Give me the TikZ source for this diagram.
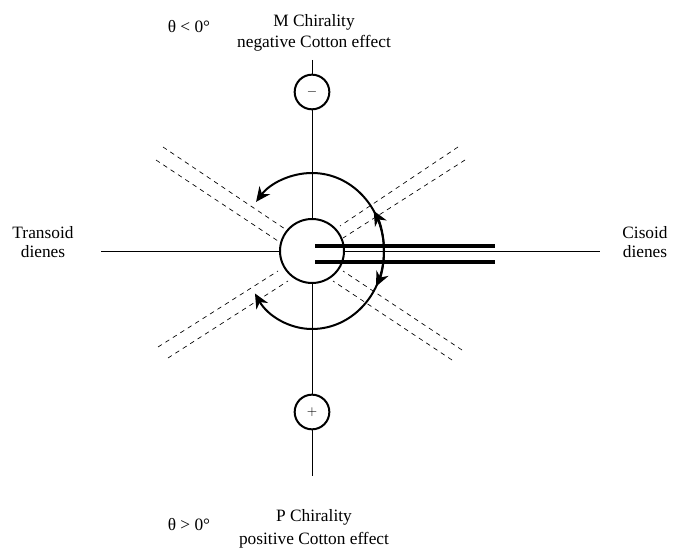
\documentclass[tikz,border=0pt]{standalone}
\usepackage{fontspec}
\setmainfont{Liberation Serif}
\usetikzlibrary{arrows.meta}
\tikzset{
  lab/.style={align=center,font=\fontsize{13}{14.4}\selectfont,inner sep=0pt},
  ring/.style={circle,draw,line width=1.5pt,fill=white,inner sep=0pt},
  thin axis/.style={line width=0.7pt},
  dienedash/.style={line width=0.5pt,dash pattern=on 3.4pt off 3.2pt},
  bar/.style={line width=3.6pt},
  sweep/.style={line width=1.5pt,-{Stealth[length=11pt,width=10pt]}}
}
\begin{document}
\begin{tikzpicture}[x=0.75pt,y=-0.75pt]
\useasboundingbox (0,0) rectangle (684,548);
\coordinate (c) at (312,251);
% dashed dienes
\draw[dienedash]
(163,147)--(288,231)
(156,160)--(278,241)
(458,147)--(340,226)
(465,160)--(343,238)
(158,347)--(278,271)
(168,358)--(288,281)
(462,350)--(343,271)
(452,360)--(333,281);
\node[ring,minimum size=48pt] (core) at (c) {};
\node[ring,minimum size=26pt] (minus) at (312,92) {\fontsize{10}{10}\selectfont$-$};
\node[ring,minimum size=26pt] (plus) at (312,412) {\fontsize{10}{10}\selectfont$+$};
\coordinate (top) at (312,60);
\coordinate (bottom) at (312,476);
\coordinate (left) at (101,251);
\coordinate (right) at (600,251);
\draw[thin axis] (top)--(minus) (minus)--(core) (core)--(plus) (plus)--(bottom);
\draw[thin axis] (left)--(core) (core)--(right);
% bars
\coordinate (b1) at (315,246);
\coordinate (b2) at (495,246);
\coordinate (b3) at (315,262);
\coordinate (b4) at (495,262);
\draw[bar] (b1)--(b2) (b3)--(b4);
% arcs
\coordinate (r) at (384,251);
\draw[sweep] (r) arc[start angle=0,end angle=90,x radius=72,y radius=78]
  arc[start angle=90,end angle=147,x radius=68,y radius=78];
\draw[sweep] (r) arc[start angle=0,end angle=-141,x radius=72,y radius=78];
\draw[sweep] (r) arc[start angle=0,end angle=27,x radius=72,y radius=78];
\draw[sweep] (r) arc[start angle=0,end angle=-31,x radius=72,y radius=78];
% labels
\node[lab] (mchir) at (314,33) {M Chirality\\[1pt]negative Cotton effect};
\node[lab] (pchir) at (314,529) {P Chirality\\[3pt]positive Cotton effect};
\node[lab] (tneg) at (189,27) {θ < 0°};
\node[lab] (tpos) at (189,525) {θ > 0°};
\node[lab] (trans) at (43,242) {Transoid\\dienes};
\node[lab] (cis) at (645,242) {Cisoid\\dienes};
\end{tikzpicture}
\end{document}
